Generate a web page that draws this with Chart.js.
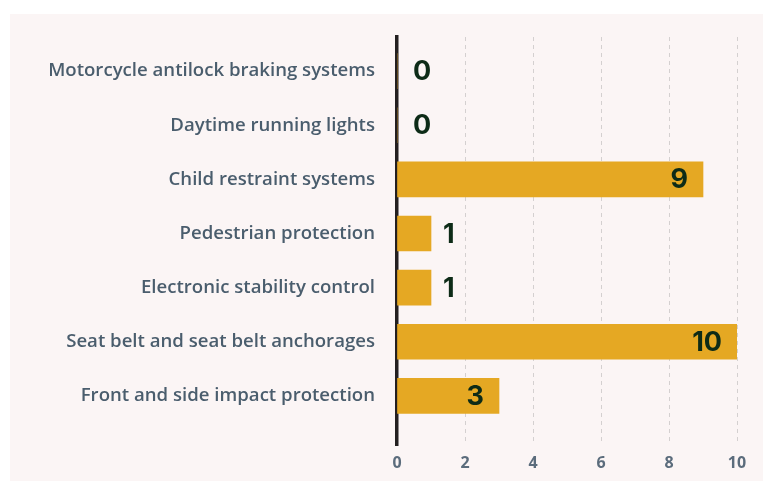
<!DOCTYPE html>
<html>
<head>
<meta charset="utf-8">
<script src="https://cdn.jsdelivr.net/npm/chart.js@4.4.0/dist/chart.umd.min.js"></script>
<style>
  html, body { margin: 0; padding: 0; background: #ffffff; }
  #wrap {
    position: absolute; left: 10px; top: 14px;
    width: 753px; height: 467px;
    background: #fbf5f5;
  }
</style>
</head>
<body>
<div id="wrap"><canvas id="safetyChart"></canvas></div>
<script>
// categories, top to bottom
const categories = [
  'Motorcycle antilock braking systems',
  'Daytime running lights',
  'Child restraint systems',
  'Pedestrian protection',
  'Electronic stability control',
  'Seat belt and seat belt anchorages',
  'Front and side impact protection'
];
const counts = [0, 0, 9, 1, 1, 10, 3];
const xTicks = [0, 2, 4, 6, 8, 10];

document.addEventListener('DOMContentLoaded', function() {
  const ctx = document.getElementById('safetyChart');

  // value labels: inside the bar end for long bars, just after it for short ones
  const valueLabels = {
    id: 'valueLabels',
    afterDatasetsDraw(chart) {
      const c = chart.ctx;
      const meta = chart.getDatasetMeta(0);
      c.save();
      c.font = '700 27px Inter, "DejaVu Sans", sans-serif';
      c.fillStyle = '#0d2b17';
      c.textBaseline = 'middle';
      meta.data.forEach(function(bar, i) {
        const v = counts[i];
        if (v >= 3) {
          c.textAlign = 'right';
          c.fillText(String(v), bar.x - 15, bar.y + 1);
        } else {
          c.textAlign = 'left';
          c.fillText(String(v), Math.max(bar.x, bar.base + 4) + 12, bar.y + 1);
        }
      });
      c.restore();
    }
  };

  new Chart(ctx, {
    type: 'bar',
    data: {
      datasets: [{
        data: counts.map(function(v, i) { return { x: v, y: i }; }),
        backgroundColor: '#e5a823',
        borderWidth: 0,
        barThickness: 35
      }]
    },
    options: {
      indexAxis: 'y',
      responsive: true,
      maintainAspectRatio: false,
      animation: false,
      layout: { padding: { top: 23, right: 26, left: 0, bottom: 0 } },
      scales: {
        x: {
          type: 'linear',
          bounds: 'data',
          min: 0,
          max: 10,
          afterBuildTicks(scale) {
            scale.ticks = xTicks.map(function(v) { return { value: v }; });
          },
          afterFit(scale) { scale.height = 36; },
          grid: {
            drawTicks: false,
            color: function(c) { return c.tick && c.tick.value === 0 ? 'rgba(0,0,0,0)' : '#d4d0d0'; },
            lineWidth: 1
          },
          border: { display: false, dash: [4, 4] },
          ticks: {
            padding: 9,
            color: '#5b6c7c',
            font: { family: '"Open Sans", sans-serif', size: 16, weight: '700' }
          }
        },
        y: {
          type: 'linear',
          bounds: 'data',
          offset: false,
          reverse: true,
          min: -0.63,
          max: 6.907,
          afterBuildTicks(scale) {
            scale.ticks = categories.map(function(_, i) { return { value: i }; });
          },
          afterFit(scale) {
            scale.width = 387;
            scale.paddingTop = 0;
            scale.paddingBottom = 0;
          },
          grid: { display: false, drawTicks: false, offset: false },
          border: { display: true, color: '#231f20', width: 3.5 },
          ticks: {
            autoSkip: false,
            padding: 22,
            color: '#4a5d6d',
            font: { family: '"Open Sans", sans-serif', size: 18.6, weight: '600' },
            callback: function(v) { return Number.isInteger(v) ? categories[v] : ''; }
          }
        }
      },
      plugins: {
        legend: { display: false },
        tooltip: { enabled: false }
      }
    },
    plugins: [valueLabels]
  });
});
</script>
</body>
</html>
